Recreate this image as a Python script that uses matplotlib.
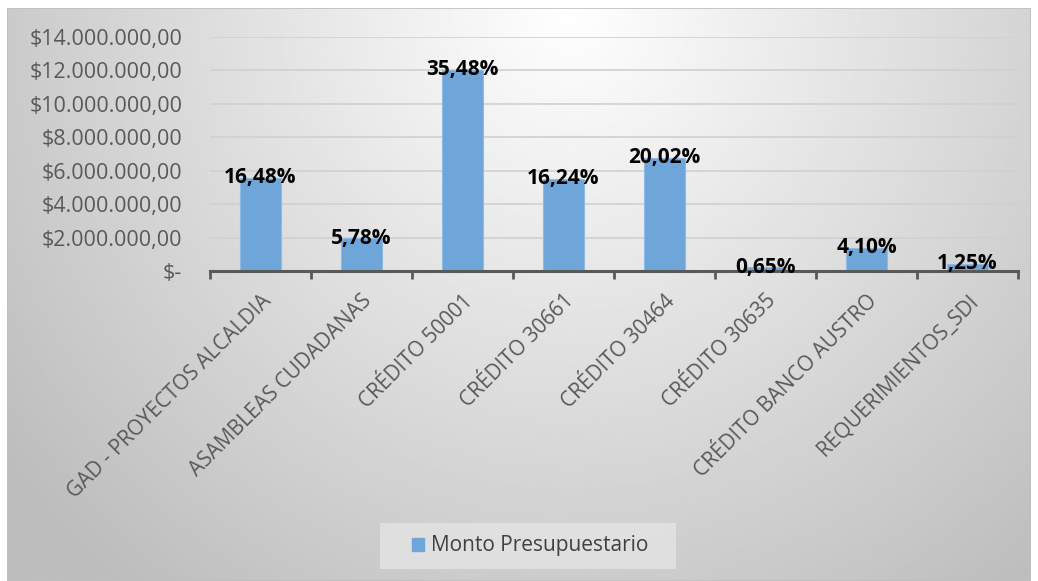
import numpy as np
import matplotlib
matplotlib.use("Agg")
import matplotlib.pyplot as plt
from matplotlib.patches import Rectangle

categories = ["GAD - PROYECTOS ALCALDIA", "ASAMBLEAS CUDADANAS", "CRÉDITO 50001",
              "CRÉDITO 30661", "CRÉDITO 30464", "CRÉDITO 30635",
              "CRÉDITO BANCO AUSTRO", "REQUERIMIENTOS_SDI"]
values = [5590000, 1960000, 12030000, 5510000, 6790000, 220000, 1390000, 420000]
pct_labels = ["16,48%", "5,78%", "35,48%", "16,24%", "20,02%", "0,65%", "4,10%", "1,25%"]
series_name = "Monto Presupuestario"
yticks = [0, 2e6, 4e6, 6e6, 8e6, 10e6, 12e6, 14e6]

plt.rcParams['font.family'] = ['Open Sans', 'DejaVu Sans']

W, H = 1038, 581
fig = plt.figure(figsize=(W / 100, H / 100), dpi=100)
fig.patch.set_facecolor('white')

# background gradient
bg = fig.add_axes([7 / W, 0, (1031 - 7) / W, (581 - 8) / H])
bg.set_axis_off()
xx, yy = np.meshgrid(np.linspace(0, 1, 400), np.linspace(0, 1, 250))
d = np.sqrt(((xx - 0.55) / 0.75) ** 2 + ((yy - 0.0) / 1.4) ** 2)
g = np.clip(1.0 - 0.28 * d, 0.74, 1.0)
bg.imshow(g, cmap='gray', vmin=0, vmax=1, aspect='auto', extent=[0, 1, 1, 0],
          interpolation='bilinear')
bg.add_patch(Rectangle((0, 0), 1, 1, transform=bg.transAxes, fill=False,
                       edgecolor='#bfbfbf', lw=1.2))

ax = fig.add_axes([210 / W, 1 - 271 / H, (1018 - 210) / W, (271 - 37) / H])
ax.set_facecolor('none')
x = np.arange(len(categories))
bars = ax.bar(x, values, width=0.4, color='#6FA6DA', edgecolor='#8DBBE5', lw=0.8, zorder=3)
ax.set_xlim(-0.5, len(categories) - 0.5)
ax.set_ylim(0, 14e6)
ax.set_yticks(yticks)


def fmt(v):
    if v == 0:
        return "$-"
    s = f"{int(v):,}".replace(",", ".")
    return f"${s},00"


ax.set_yticklabels([fmt(v) for v in yticks], fontsize=15.5, color='#595959')
ax.tick_params(axis='y', length=0, pad=20)
ax.grid(axis='y', color='#d0d0d0', lw=1.2, zorder=0)
for s in ['top', 'right', 'left']:
    ax.spines[s].set_visible(False)
ax.spines['bottom'].set_color('#595959')
ax.spines['bottom'].set_linewidth(2.2)
ax.spines['bottom'].set_zorder(4)

ax.set_xticks(np.arange(len(categories) + 1) - 0.5, minor=False)
ax.set_xticklabels([])
ax.tick_params(axis='x', which='major', length=6, width=2, color='#595959', direction='out')
ax.set_xticks(x, minor=True)
ax.set_xticklabels(categories, minor=True, rotation=45, ha='right', va='top',
                   rotation_mode='anchor', fontsize=15, color='#595959')
ax.tick_params(axis='x', which='minor', length=0, pad=14)

for xi, v, t in zip(x, values, pct_labels):
    ax.text(xi, v, t, ha='center', va='center', fontsize=15, fontweight='bold',
            color='black', zorder=5)

# legend box
fig.patches.append(Rectangle((380 / W, 1 - 569 / H), (676 - 380) / W, 46 / H,
                             transform=fig.transFigure, facecolor='#e3e3e3',
                             edgecolor='none', alpha=0.85, zorder=1))
leg = fig.legend([Rectangle((0, 0), 1, 1, color='#6FA6DA')], [series_name],
                 loc='center', bbox_to_anchor=(530 / W, 1 - 546 / H), frameon=False,
                 fontsize=15, handlelength=0.6, handleheight=0.6, handletextpad=0.3,
                 borderpad=0.3, borderaxespad=0)
for t in leg.get_texts():
    t.set_color('#404040')

fig.savefig('out.png', dpi=100)
